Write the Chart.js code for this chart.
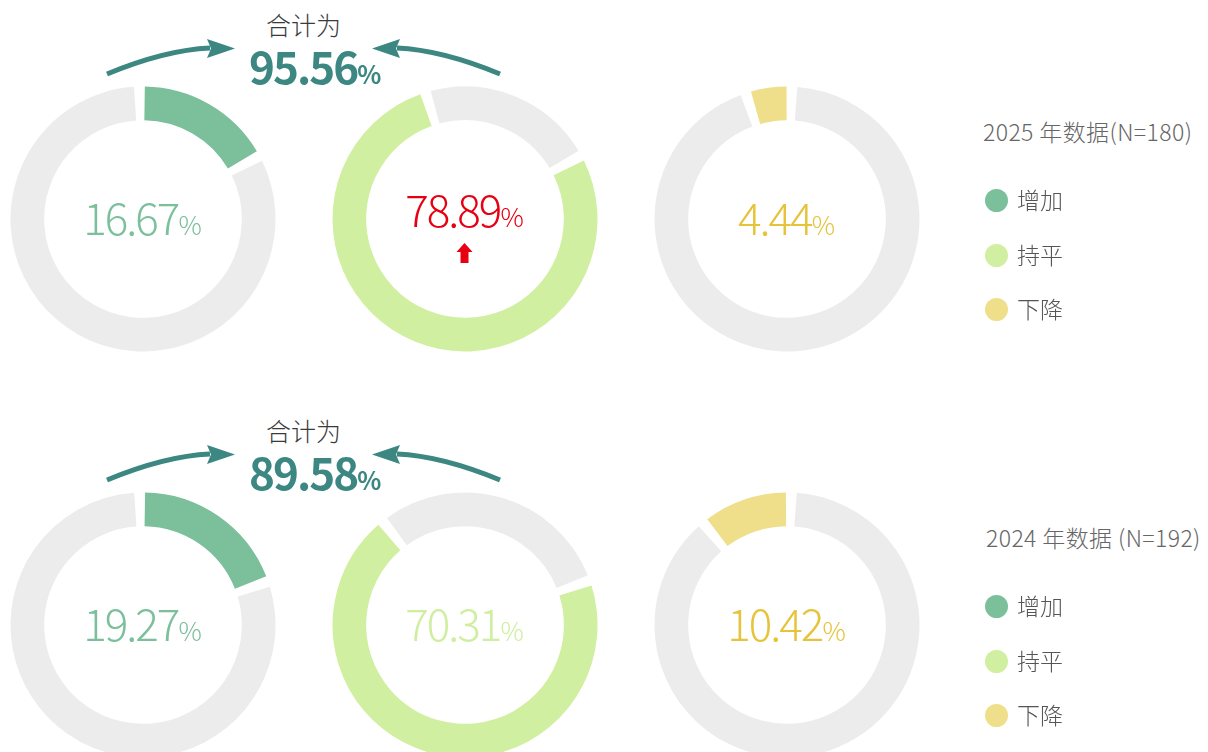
<!DOCTYPE html>
<html><head><meta charset="utf-8">
<script src="https://cdn.jsdelivr.net/npm/chart.js@4.4.1/dist/chart.umd.min.js"></script>
<style>
html,body{margin:0;padding:0;background:#fff;width:1208px;height:752px;overflow:hidden;}
body{position:relative;font-family:"Noto Sans CJK SC","Noto Sans",sans-serif;}
canvas.cv{position:absolute;}
.center{position:absolute;width:280px;height:60px;line-height:60px;text-align:center;white-space:nowrap;font-weight:300;}
.center .num{font-size:44px;letter-spacing:-2px;}
.center .pct{font-size:26px;}
.total-label{position:absolute;width:160px;text-align:center;font-size:25px;color:#3a3a3a;line-height:30px;font-weight:300;}
.total{position:absolute;white-space:nowrap;color:#3d8782;font-weight:700;line-height:50px;}
.total .num{font-size:44px;letter-spacing:-2px;}
.total .pct{font-size:25px;}
.legend{position:absolute;color:#666;}
.legend .title{position:absolute;top:0;font-size:23px;line-height:30px;white-space:nowrap;font-weight:300;letter-spacing:0.4px;}
.legend .item{position:absolute;left:0;height:30px;line-height:30px;font-size:23px;color:#555;white-space:nowrap;font-weight:300;}
.legend .dot{display:inline-block;width:23px;height:23px;border-radius:50%;vertical-align:middle;margin-right:9px;position:relative;top:-2px;}
svg{position:absolute;left:0;top:0;}
</style>
</head><body>
<svg id="arrows" width="1208" height="752"></svg>
<script>
// ---- data ----
const categories = ['增加', '持平', '下降'];
const values2025 = [16.67, 78.89, 4.44];
const values2024 = [19.27, 70.31, 10.42];
const legendTitles = ['2025 年数据(N=180)', '2024 年数据 (N=192)'];
const totalLabel = '合计为';
const remainderLabel = '其他';

// ---- styles ----
const segColors = ['#7bbf9b', '#d0efa0', '#efdf8a'];
const greyColor = '#ebeceb';
const textColorsByRow = [
  ['#7bbf9b', '#e60012', '#e5c43c'],
  ['#7bbf9b', '#cfeea0', '#e5c43c']
];
const highlightUp = [[false, true, false], [false, false, false]];
const rows = [values2025, values2024];
const rowOffset = 406;
const baseCy = 219, baseCx = 142.5, colStep = 322, canvasSize = 280;

const svg = document.getElementById('arrows');
const NS = 'http://www.w3.org/2000/svg';
function arrow(x0, y0, dir, dy) {
  const p = document.createElementNS(NS, 'path');
  const sx = x0, sy = y0 + dy;
  const ex = x0 + dir * 103, ey = 48 + dy;
  p.setAttribute('d', `M${sx},${sy} Q${x0 + dir * 58},${50 + dy} ${ex},${ey}`);
  p.setAttribute('fill', 'none');
  p.setAttribute('stroke', '#3d8782');
  p.setAttribute('stroke-width', '5');
  svg.appendChild(p);
  const h = document.createElementNS(NS, 'path');
  const bx = x0 + dir * 100, tx = x0 + dir * 128;
  h.setAttribute('d', `M${bx},${39 + dy} L${tx},${48.5 + dy} L${bx},${58 + dy} L${bx + dir * 4},${48.5 + dy} Z`);
  h.setAttribute('fill', '#3d8782');
  svg.appendChild(h);
}

rows.forEach((vals, r) => {
  const cy = baseCy + rowOffset * r;
  const dy = rowOffset * r;
  let start = 0;
  vals.forEach((v, i) => {
    const cx = baseCx + colStep * i;
    const c = document.createElement('canvas');
    c.className = 'cv';
    c.width = canvasSize; c.height = canvasSize;
    c.style.left = (cx - canvasSize / 2) + 'px';
    c.style.top = (cy - canvasSize / 2) + 'px';
    document.body.appendChild(c);
    new Chart(c, {
      type: 'doughnut',
      data: {
        labels: [categories[i], remainderLabel],
        datasets: [{
          data: [v, +(100 - v).toFixed(2)],
          backgroundColor: [segColors[i], greyColor],
          borderWidth: 0,
          spacing: 6
        }]
      },
      options: {
        responsive: false,
        animation: false,
        rotation: start * 3.6,
        cutout: '74%',
        layout: { padding: 7.5 },
        events: [],
        plugins: { legend: { display: false }, tooltip: { enabled: false } }
      }
    });
    start += v;

    const t = document.createElement('div');
    t.className = 'center';
    t.style.left = (cx - 140) + 'px';
    t.style.top = (cy - 33 - (highlightUp[r][i] ? 8 : 0)) + 'px';
    t.style.color = textColorsByRow[r][i];
    t.innerHTML = `<span class="num">${v.toFixed(2)}</span><span class="pct">%</span>`;
    document.body.appendChild(t);
    if (highlightUp[r][i]) {
      const a = document.createElementNS(NS, 'path');
      const ax = cx, ay = cy + 24;
      a.setAttribute('d', `M${ax},${ay} L${ax + 8},${ay + 9} L${ax + 4},${ay + 9} L${ax + 4},${ay + 20} L${ax - 4},${ay + 20} L${ax - 4},${ay + 9} L${ax - 8},${ay + 9} Z`);
      a.setAttribute('fill', '#e60012');
      svg.appendChild(a);
    }
  });

  const total = vals[0] + vals[1];
  const tl = document.createElement('div');
  tl.className = 'total-label';
  tl.textContent = totalLabel;
  tl.style.left = (303.5 - 80) + 'px';
  tl.style.top = (9 + dy) + 'px';
  document.body.appendChild(tl);
  const tv = document.createElement('div');
  tv.className = 'total';
  tv.style.left = '249px';
  tv.style.top = (40 + dy) + 'px';
  tv.innerHTML = `<span class="num">${total.toFixed(2)}</span><span class="pct">%</span>`;
  document.body.appendChild(tv);
  arrow(107, 74, 1, dy);
  arrow(500, 74, -1, dy);

  const lg = document.createElement('div');
  lg.className = 'legend';
  lg.style.left = '985px';
  lg.style.top = (116 + dy) + 'px';
  lg.innerHTML = `<div class="title" style="left:${r === 0 ? -2 : 1}px">${legendTitles[r]}</div>` +
    categories.map((c, i) => `<div class="item" style="top:${68 + i * 54.5}px;left:0px"><span class="dot" style="background:${segColors[i]}"></span>${c}</div>`).join('');
  document.body.appendChild(lg);
});
</script>
</body></html>
